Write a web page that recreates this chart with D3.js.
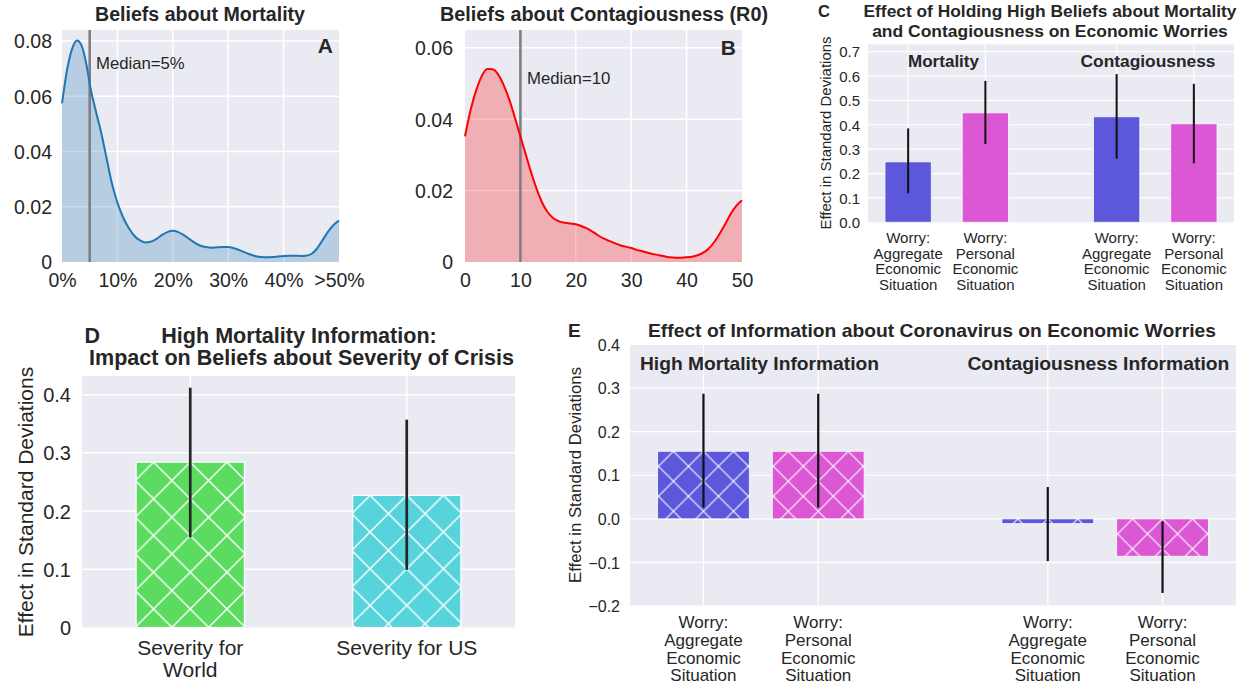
<!DOCTYPE html>
<html><head><meta charset="utf-8">
<script src="https://cdn.jsdelivr.net/npm/d3@7"></script>
<style>
body{margin:0;background:#fff;}
text{font-family:"Liberation Sans",Arial,sans-serif;fill:#262626;}
</style>
</head><body>
<svg id="chart" width="1247" height="684"></svg>
<script>
// ---------------- DATA ----------------
// Panel A: density of beliefs about mortality (%)
const mortX = [0,1,2,2.7,3.5,4.5,5,6,7,8,9,10,11,12,13,14,15,16,17,18,19,20,21,22,23,24,25,26,27,28,29,30,31,32,33,34,35,36,37,38,39,40,41,42,43,44,45,46,47,48,49,50];
const mortDensity = [0.0574,0.0705,0.0782,0.0802,0.0785,0.0705,0.0645,0.0555,0.0475,0.038,0.0285,0.0215,0.0163,0.0125,0.0096,0.0079,0.0071,0.0073,0.0083,0.0097,0.0108,0.0113,0.0108,0.0097,0.0083,0.0069,0.0059,0.0054,0.0052,0.0053,0.0054,0.0054,0.0050,0.0043,0.0035,0.0027,0.0021,0.0018,0.0017,0.0018,0.0020,0.0022,0.0023,0.0023,0.0022,0.0023,0.0029,0.0048,0.0078,0.0109,0.0134,0.0150];
const mortMedian = 5;
const mortXTicks = [0,10,20,30,40,50];
const mortXTickLabels = ["0%","10%","20%","30%","40%",">50%"];
const mortYTicks = [0,0.02,0.04,0.06,0.08];
const mortYTickLabels = ["0","0.02","0.04","0.06","0.08"];

// Panel B: density of beliefs about R0
const r0X = [0,1,2,3,4,5,6,7,8,9,10,11,12,13,14,15,16,17,18,19,20,21,22,23,24,25,26,27,28,29,30,31,32,33,34,35,36,37,38,39,40,41,42,43,44,45,46,47,48,49,50];
const r0Density = [0.0352,0.0425,0.048,0.052,0.0541,0.054,0.0525,0.0495,0.0455,0.0405,0.0352,0.030,0.0248,0.0202,0.0164,0.0138,0.0122,0.0114,0.011,0.0108,0.0106,0.0101,0.0094,0.0085,0.0075,0.0066,0.0059,0.0053,0.0047,0.0043,0.0039,0.0034,0.003,0.0026,0.0022,0.0019,0.0016,0.0013,0.0012,0.0012,0.0013,0.0015,0.0019,0.0026,0.0038,0.0056,0.008,0.0107,0.0136,0.0158,0.0173];
const r0Median = 10;
const r0XTicks = [0,10,20,30,40,50];
const r0YTicks = [0,0.02,0.04,0.06];
const r0YTickLabels = ["0","0.02","0.04","0.06"];

// Panel C
const cGroups = ["Mortality","Contagiousness"];
const cOutcomes = [["Worry:","Aggregate","Economic","Situation"],["Worry:","Personal","Economic","Situation"]];
const cEffect = [[0.248,0.449],[0.433,0.404]];
const cLow = [[0.119,0.321],[0.261,0.242]];
const cHigh = [[0.385,0.580],[0.608,0.568]];
const cYTicks = [0,0.1,0.2,0.3,0.4,0.5,0.6,0.7];

// Panel D
const dCategories = [["Severity for","World"],["Severity for US"]];
const dEffect = [0.284,0.227];
const dLow = [0.155,0.099];
const dHigh = [0.412,0.357];
const dYTicks = [0,0.1,0.2,0.3,0.4];
const dYTickLabels = ["0","0.1","0.2","0.3","0.4"];

// Panel E
const eGroups = ["High Mortality Information","Contagiousness Information"];
const eOutcomes = [["Worry:","Aggregate","Economic","Situation"],["Worry:","Personal","Economic","Situation"]];
const eEffect = [[0.155,0.155],[-0.011,-0.086]];
const eLow = [[0.026,0.026],[-0.097,-0.170]];
const eHigh = [[0.287,0.287],[0.073,-0.006]];
const eYTicks = [-0.2,-0.1,0,0.1,0.2,0.3,0.4];

// ---------------- STYLE ----------------
const BG = "#EAEAF2";
const outcomeColors = ["#5D57DB","#DB57D4"];
const dColors = ["#5BDB5F","#57D3DB"];

const svg = d3.select("#chart");
const defs = svg.append("defs");

function txt(g, s, x, y, o = {}) {
  const t = g.append("text").attr("x", x).attr("y", y).text(s)
    .attr("font-size", o.size || 15)
    .attr("font-weight", o.bold ? "bold" : "normal")
    .attr("text-anchor", o.anchor || "start");
  if (o.len) t.attr("textLength", o.len).attr("lengthAdjust", "spacingAndGlyphs");
  if (o.rotate) t.attr("transform", `rotate(-90,${x},${y})`);
  return t;
}

function panelFrame(box, xs, ys, xGrid, yGrid, gw) {
  const g = svg.append("g");
  g.append("rect").attr("x", box.l).attr("y", box.t)
    .attr("width", box.r - box.l).attr("height", box.b - box.t).attr("fill", BG);
  g.selectAll(null).data(yGrid).join("line")
    .attr("x1", box.l).attr("x2", box.r)
    .attr("y1", d => ys(d)).attr("y2", d => ys(d))
    .attr("stroke", "#fff").attr("stroke-width", gw);
  g.selectAll(null).data(xGrid).join("line")
    .attr("y1", box.t).attr("y2", box.b)
    .attr("x1", d => xs(d)).attr("x2", d => xs(d))
    .attr("stroke", "#fff").attr("stroke-width", gw);
  return g;
}

function leftAxis(box, ys, ticks, fmt, pad, size) {
  const ax = svg.append("g").attr("transform", `translate(${box.l},0)`)
    .call(d3.axisLeft(ys).tickValues(ticks).tickFormat(fmt).tickSize(0).tickPadding(pad));
  ax.select(".domain").remove();
  ax.attr("font-size", size).attr("font-family", null);
  ax.selectAll("text").attr("dy", "0.35em");
  return ax;
}

function hatch(id, color, cx, ytop, s, lw) {
  const p = defs.append("pattern").attr("id", id)
    .attr("patternUnits", "userSpaceOnUse")
    .attr("width", s).attr("height", s).attr("x", cx).attr("y", ytop);
  p.append("rect").attr("width", s).attr("height", s).attr("fill", color);
  [-1, 0, 1].forEach(k => {
    p.append("line").attr("x1", k * s).attr("y1", 0).attr("x2", k * s + s).attr("y2", s)
      .attr("stroke", "#fff").attr("stroke-width", lw);
    p.append("line").attr("x1", k * s).attr("y1", s).attr("x2", k * s + s).attr("y2", 0)
      .attr("stroke", "#fff").attr("stroke-width", lw);
  });
  return `url(#${id})`;
}

// ---------------- PANEL A ----------------
(function () {
  const box = {l: 62, r: 339, t: 30, b: 262};
  const xs = d3.scaleLinear().domain([0, 50]).range([box.l, box.r]);
  const ys = d3.scaleLinear().domain([0, 0.084]).range([box.b, box.t]);
  const g = panelFrame(box, xs, ys, [10, 20, 30, 40], [0.02, 0.04, 0.06, 0.08], 1.5);
  const pts = mortX.map((x, i) => [x, mortDensity[i]]);
  g.append("path").datum(pts)
    .attr("d", d3.area().x(d => xs(d[0])).y0(ys(0)).y1(d => ys(d[1])).curve(d3.curveMonotoneX))
    .attr("fill", "#1f77b4").attr("fill-opacity", 0.25);
  g.append("line").attr("x1", xs(mortMedian)).attr("x2", xs(mortMedian))
    .attr("y1", box.t).attr("y2", box.b).attr("stroke", "#7f7f7f").attr("stroke-width", 2.6);
  g.append("path").datum(pts)
    .attr("d", d3.line().x(d => xs(d[0])).y(d => ys(d[1])).curve(d3.curveMonotoneX))
    .attr("fill", "none").attr("stroke", "#1f77b4").attr("stroke-width", 2);
  leftAxis(box, ys, mortYTicks, (d, i) => mortYTickLabels[i], 10, 19.5);
  const bx = svg.append("g").attr("transform", `translate(0,${box.b})`)
    .call(d3.axisBottom(xs).tickValues(mortXTicks).tickFormat((d, i) => mortXTickLabels[i]).tickSize(0).tickPadding(11));
  bx.select(".domain").remove();
  bx.attr("font-size", 19.5).attr("font-family", null);
  txt(svg, "Beliefs about Mortality", 200, 21, {size: 19.5, bold: true, anchor: "middle", len: 210});
  txt(svg, "A", 333, 53, {size: 21, bold: true, anchor: "end"});
  txt(svg, "Median=5%", 96, 68.5, {size: 16.5, len: 88.6});
})();

// ---------------- PANEL B ----------------
(function () {
  const box = {l: 465, r: 742, t: 30, b: 262};
  const xs = d3.scaleLinear().domain([0, 50]).range([box.l, box.r]);
  const ys = d3.scaleLinear().domain([0, 0.065]).range([box.b, box.t]);
  const g = panelFrame(box, xs, ys, [10, 20, 30, 40], [0.02, 0.04, 0.06], 1.5);
  const pts = r0X.map((x, i) => [x, r0Density[i]]);
  g.append("path").datum(pts)
    .attr("d", d3.area().x(d => xs(d[0])).y0(ys(0)).y1(d => ys(d[1])).curve(d3.curveMonotoneX))
    .attr("fill", "#ff0000").attr("fill-opacity", 0.25);
  g.append("line").attr("x1", xs(r0Median)).attr("x2", xs(r0Median))
    .attr("y1", box.t).attr("y2", box.b).attr("stroke", "#7f7f7f").attr("stroke-width", 2.6);
  g.append("path").datum(pts)
    .attr("d", d3.line().x(d => xs(d[0])).y(d => ys(d[1])).curve(d3.curveMonotoneX))
    .attr("fill", "none").attr("stroke", "#ff0000").attr("stroke-width", 2);
  leftAxis(box, ys, r0YTicks, (d, i) => r0YTickLabels[i], 12, 19.5);
  const bx = svg.append("g").attr("transform", `translate(0,${box.b})`)
    .call(d3.axisBottom(xs).tickValues(r0XTicks).tickFormat(d3.format("d")).tickSize(0).tickPadding(11));
  bx.select(".domain").remove();
  bx.attr("font-size", 19.5).attr("font-family", null);
  txt(svg, "Beliefs about Contagiousness (R0)", 604, 21, {size: 20, bold: true, anchor: "middle", len: 328});
  txt(svg, "B", 736, 55, {size: 21, bold: true, anchor: "end"});
  txt(svg, "Median=10", 527, 84, {size: 16.5, len: 83.3});
})();

// ---------------- PANEL C ----------------
(function () {
  const box = {l: 868, r: 1234, t: 44.3, b: 222.3};
  const xs = d3.scaleLinear().domain([-0.52, 4.22]).range([box.l, box.r]);
  const ys = d3.scaleLinear().domain([0, 0.73]).range([box.b, box.t]);
  const pos = (gi, oi) => gi * 2.7 + oi;
  const bars = [];
  cGroups.forEach((gname, gi) => cOutcomes.forEach((o, oi) => bars.push({
    p: pos(gi, oi), v: cEffect[gi][oi], lo: cLow[gi][oi], hi: cHigh[gi][oi], c: outcomeColors[oi], lab: o
  })));
  const g = panelFrame(box, xs, ys, bars.map(b => b.p), cYTicks.slice(1), 1.2);
  const bw = xs(0.6) - xs(0);
  g.selectAll(null).data(bars).join("rect")
    .attr("x", d => xs(d.p) - bw / 2).attr("width", bw)
    .attr("y", d => ys(d.v)).attr("height", d => ys(0) - ys(d.v))
    .attr("fill", d => d.c).attr("stroke", "#fff").attr("stroke-width", 1).attr("stroke-opacity", 0.8);
  g.selectAll(null).data(bars).join("line")
    .attr("x1", d => xs(d.p)).attr("x2", d => xs(d.p))
    .attr("y1", d => ys(d.lo)).attr("y2", d => ys(d.hi))
    .attr("stroke", "#111").attr("stroke-width", 2);
  leftAxis(box, ys, cYTicks, d3.format(".1f"), 8, 15);
  bars.forEach(b => b.lab.forEach((line, li) =>
    txt(svg, line, xs(b.p), box.b + 20.7 + li * 15.7, {size: 15, anchor: "middle"})));
  txt(svg, "Mortality", 943.5, 66.7, {size: 17, bold: true, anchor: "middle", len: 71});
  txt(svg, "Contagiousness", 1148, 66.7, {size: 17, bold: true, anchor: "middle", len: 135});
  txt(svg, "Effect in Standard Deviations", 831, 133, {size: 15, anchor: "middle", rotate: true});
  txt(svg, "C", 818, 17.3, {size: 16.5, bold: true});
  txt(svg, "Effect of Holding High Beliefs about Mortality", 1050, 17.3, {size: 17, bold: true, anchor: "middle", len: 373});
  txt(svg, "and Contagiousness on Economic Worries", 1050, 36.7, {size: 17, bold: true, anchor: "middle", len: 355.7});
})();

// ---------------- PANEL D ----------------
(function () {
  const box = {l: 82, r: 515, t: 376, b: 627.5};
  const xs = d3.scaleLinear().domain([-0.5, 1.5]).range([box.l, box.r]);
  const ys = d3.scaleLinear().domain([0, 0.432]).range([box.b, box.t]);
  const bars = dCategories.map((lab, i) => ({p: i, v: dEffect[i], lo: dLow[i], hi: dHigh[i], c: dColors[i], lab}));
  const g = panelFrame(box, xs, ys, bars.map(b => b.p), dYTicks.slice(1), 1.5);
  const bw = xs(0.5) - xs(0);
  g.selectAll(null).data(bars).join("rect")
    .attr("x", d => xs(d.p) - bw / 2).attr("width", bw)
    .attr("y", d => ys(d.v)).attr("height", d => ys(0) - ys(d.v))
    .attr("fill", (d, i) => hatch("hd" + i, d.c, xs(d.p), ys(d.v), 36.7, 1.4))
    .attr("stroke", "#fff").attr("stroke-width", 1.2);
  g.selectAll(null).data(bars).join("line")
    .attr("x1", d => xs(d.p)).attr("x2", d => xs(d.p))
    .attr("y1", d => ys(d.lo)).attr("y2", d => ys(d.hi))
    .attr("stroke", "#262626").attr("stroke-width", 2.7);
  leftAxis(box, ys, dYTicks, (d, i) => dYTickLabels[i], 11, 20);
  bars.forEach(b => b.lab.forEach((line, li) =>
    txt(svg, line, xs(b.p), box.b + 27.5 + li * 21.7, {size: 21, anchor: "middle"})));
  txt(svg, "Effect in Standard Deviations", 32.5, 502, {size: 21, anchor: "middle", rotate: true});
  txt(svg, "D", 84.4, 342.7, {size: 21.5, bold: true});
  txt(svg, "High Mortality Information:", 299, 342.7, {size: 21.5, bold: true, anchor: "middle", len: 275.5});
  txt(svg, "Impact on Beliefs about Severity of Crisis", 301.5, 365, {size: 21.5, bold: true, anchor: "middle", len: 425});
})();

// ---------------- PANEL E ----------------
(function () {
  const box = {l: 630, r: 1236, t: 344.5, b: 606};
  const xs = d3.scaleLinear().domain([-0.64, 4.64]).range([box.l, box.r]);
  const ys = d3.scaleLinear().domain([-0.2, 0.4]).range([box.b, box.t]);
  const pos = (gi, oi) => gi * 3 + oi;
  const bars = [];
  eGroups.forEach((gname, gi) => eOutcomes.forEach((o, oi) => bars.push({
    p: pos(gi, oi), v: eEffect[gi][oi], lo: eLow[gi][oi], hi: eHigh[gi][oi], c: outcomeColors[oi], lab: o
  })));
  const g = panelFrame(box, xs, ys, bars.map(b => b.p), eYTicks, 1.2);
  const bw = xs(0.8) - xs(0);
  g.selectAll(null).data(bars).join("rect")
    .attr("x", d => xs(d.p) - bw / 2).attr("width", bw)
    .attr("y", d => ys(Math.max(d.v, 0))).attr("height", d => Math.abs(ys(0) - ys(d.v)))
    .attr("fill", (d, i) => hatch("he" + i, d.c, xs(d.p), ys(Math.max(d.v, 0)), 30, 1.1))
    .attr("stroke", "#fff").attr("stroke-width", 1).attr("stroke-opacity", 0.8);
  g.selectAll(null).data(bars).join("line")
    .attr("x1", d => xs(d.p)).attr("x2", d => xs(d.p))
    .attr("y1", d => ys(d.lo)).attr("y2", d => ys(d.hi))
    .attr("stroke", "#111").attr("stroke-width", 2.2);
  leftAxis(box, ys, eYTicks, d3.format(".1f"), 10, 16);
  bars.forEach(b => b.lab.forEach((line, li) =>
    txt(svg, line, xs(b.p), box.b + 22.3 + li * 17.6, {size: 17, anchor: "middle"})));
  txt(svg, eGroups[0], 640, 370, {size: 19, bold: true, len: 239});
  txt(svg, eGroups[1], 967.4, 370, {size: 19, bold: true, len: 262});
  txt(svg, "Effect in Standard Deviations", 580.5, 475, {size: 16.8, anchor: "middle", rotate: true});
  txt(svg, "E", 568, 336.7, {size: 19, bold: true});
  txt(svg, "Effect of Information about Coronavirus on Economic Worries", 932, 336.7, {size: 19, bold: true, anchor: "middle", len: 568});
})();
</script>
</body></html>
